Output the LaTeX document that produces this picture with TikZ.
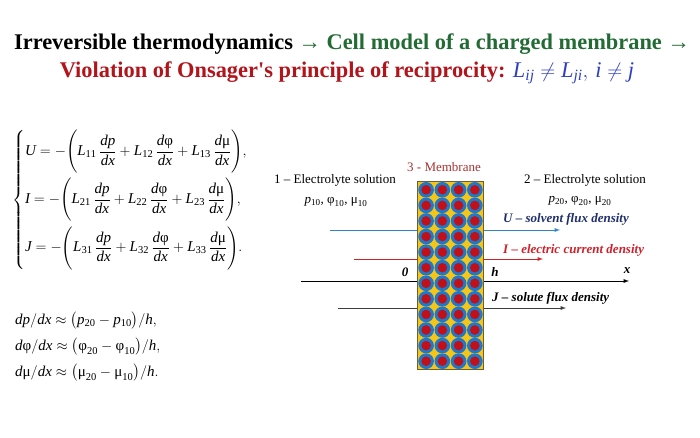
\documentclass[tikz,border=0pt]{standalone}
\usepackage{amsmath}
\usepackage{mathspec}
\setmainfont{Liberation Serif}
\setmathsfont(Digits,Latin)[Numbers={Lining,Proportional}]{Liberation Serif}
\usepackage{tikz}
\tikzset{every node/.style={inner sep=0pt},
  lbl/.style={font=\fontsize{13}{15}\selectfont},
  fluxlbl/.style={anchor=west, font=\fontsize{13}{15}\selectfont\bfseries\itshape},
  eqn/.style={anchor=west, font=\fontsize{15}{18}\selectfont}}
\usetikzlibrary{arrows}
\newcommand{\memcell}[2]{\fill[memblue] (#1,#2) circle (7.8pt); \fill[memred] (#1,#2) circle (4.8pt);}
\newcommand{\fii}{\textup{φ}}
\newcommand{\mmu}{\textup{μ}}
\definecolor{titgreen}{HTML}{236B35}
\definecolor{titred}{HTML}{B2141C}
\definecolor{mathblue}{HTML}{2F3FC4}
\definecolor{membred}{HTML}{A83232}
\definecolor{ulabel}{HTML}{1F2F6B}
\definecolor{uarrow}{HTML}{2E86C8}
\definecolor{ired}{HTML}{D0202A}
\definecolor{jgray}{HTML}{3C3C3C}
\definecolor{memyel}{HTML}{F5C518}
\definecolor{memblue}{HTML}{1F78C8}
\definecolor{memred}{HTML}{C0101A}
\definecolor{memedge}{HTML}{6A5F3C}

\begin{document}
\begin{tikzpicture}[x=1pt, y=-1pt]
\useasboundingbox (0,0) rectangle (700,438);
% title
\draw (352,44) node(head) {\fontsize{22.4}{26}\selectfont\bfseries Irreversible thermodynamics {\color{titgreen}→ Cell model of a charged membrane →}};
\draw (347,73) node(sub) {\fontsize{22.4}{26}\selectfont\bfseries{\color{titred}Violation of Onsager\textquotesingle s principle of reciprocity:} {\color{mathblue}$L_{ij}\neq L_{ji},\, i\neq j$}};
% phenomenological equations
\draw (12,200) node[eqn](eqs) {$\displaystyle\left\{\begin{aligned}
&U=-\Biggl(L_{11}\,\frac{dp}{dx}+L_{12}\,\frac{d\fii}{dx}+L_{13}\,\frac{d\mmu}{dx}\Biggr),\\[1pt]
&I=-\Biggl(L_{21}\,\frac{dp}{dx}+L_{22}\,\frac{d\fii}{dx}+L_{23}\,\frac{d\mmu}{dx}\Biggr),\\[1pt]
&J=-\Biggl(L_{31}\,\frac{dp}{dx}+L_{32}\,\frac{d\fii}{dx}+L_{33}\,\frac{d\mmu}{dx}\Biggr).
\end{aligned}\right.$};
\draw (15,321) node[eqn](dpdx) {$dp/dx\approx\big(p_{20}-p_{10}\big)/h,$};
\draw (15,347) node[eqn](dfdx) {$d\fii/dx\approx\big(\fii_{20}-\fii_{10}\big)/h,$};
\draw (15,373) node[eqn](dmdx) {$d\mmu/dx\approx\big(\mmu_{20}-\mmu_{10}\big)/h.$};
% fluxes
\coordinate (u0) at (330,230); \coordinate (u1) at (560,230);
\coordinate (i0) at (354,259); \coordinate (i1) at (543,259);
\coordinate (x0) at (301,281); \coordinate (x1) at (629,281);
\coordinate (j0) at (338,308); \coordinate (j1) at (566,308);
\draw[-latex, uarrow, line width=0.9pt] (u0) -- (u1);
\draw[-latex, ired, line width=0.9pt] (i0) -- (i1);
\draw[-latex, black, line width=0.9pt] (x0) -- (x1);
\draw[-latex, jgray, line width=0.9pt] (j0) -- (j1);
% membrane
\draw (450.5,275.5) node[minimum width=65, minimum height=187, fill=memyel](memb) {};
\begin{scope}
\clip (memb.south west) rectangle (memb.north east);
\foreach \i in {0,...,3}
  \foreach \j in {0,...,11}
    {\memcell{426.1+16.25*\i}{189.8+15.58*\j}}
\end{scope}
\draw[memedge, line width=0.8pt] (memb.south west) rectangle (memb.north east);
% labels
\draw (444,167) node[lbl, text=membred](mlab) {3 - Membrane};
\draw (335,180) node[lbl](sol1) {1 – Electrolyte solution};
\draw (336,202) node[lbl](par1) {$p_{10}$, $\fii_{10}$, $\mmu_{10}$};
\draw (585,180) node[lbl](sol2) {2 – Electrolyte solution};
\draw (580,201) node[lbl](par2) {$p_{20}$, $\fii_{20}$, $\mmu_{20}$};
\draw (503,219) node[fluxlbl, text=ulabel](ulab) {U – solvent flux density};
\draw (503,250) node[fluxlbl, text=ired](ilab) {I – electric current density};
\draw (492,298) node[fluxlbl](jlab) {J – solute flux density};
\draw (405,272) node[fluxlbl, anchor=center](zero) {0};
\draw (495,272) node[fluxlbl, anchor=center](hlab) {h};
\draw (627,271) node[fluxlbl, anchor=center](xlab) {x};
\end{tikzpicture}
\end{document}
